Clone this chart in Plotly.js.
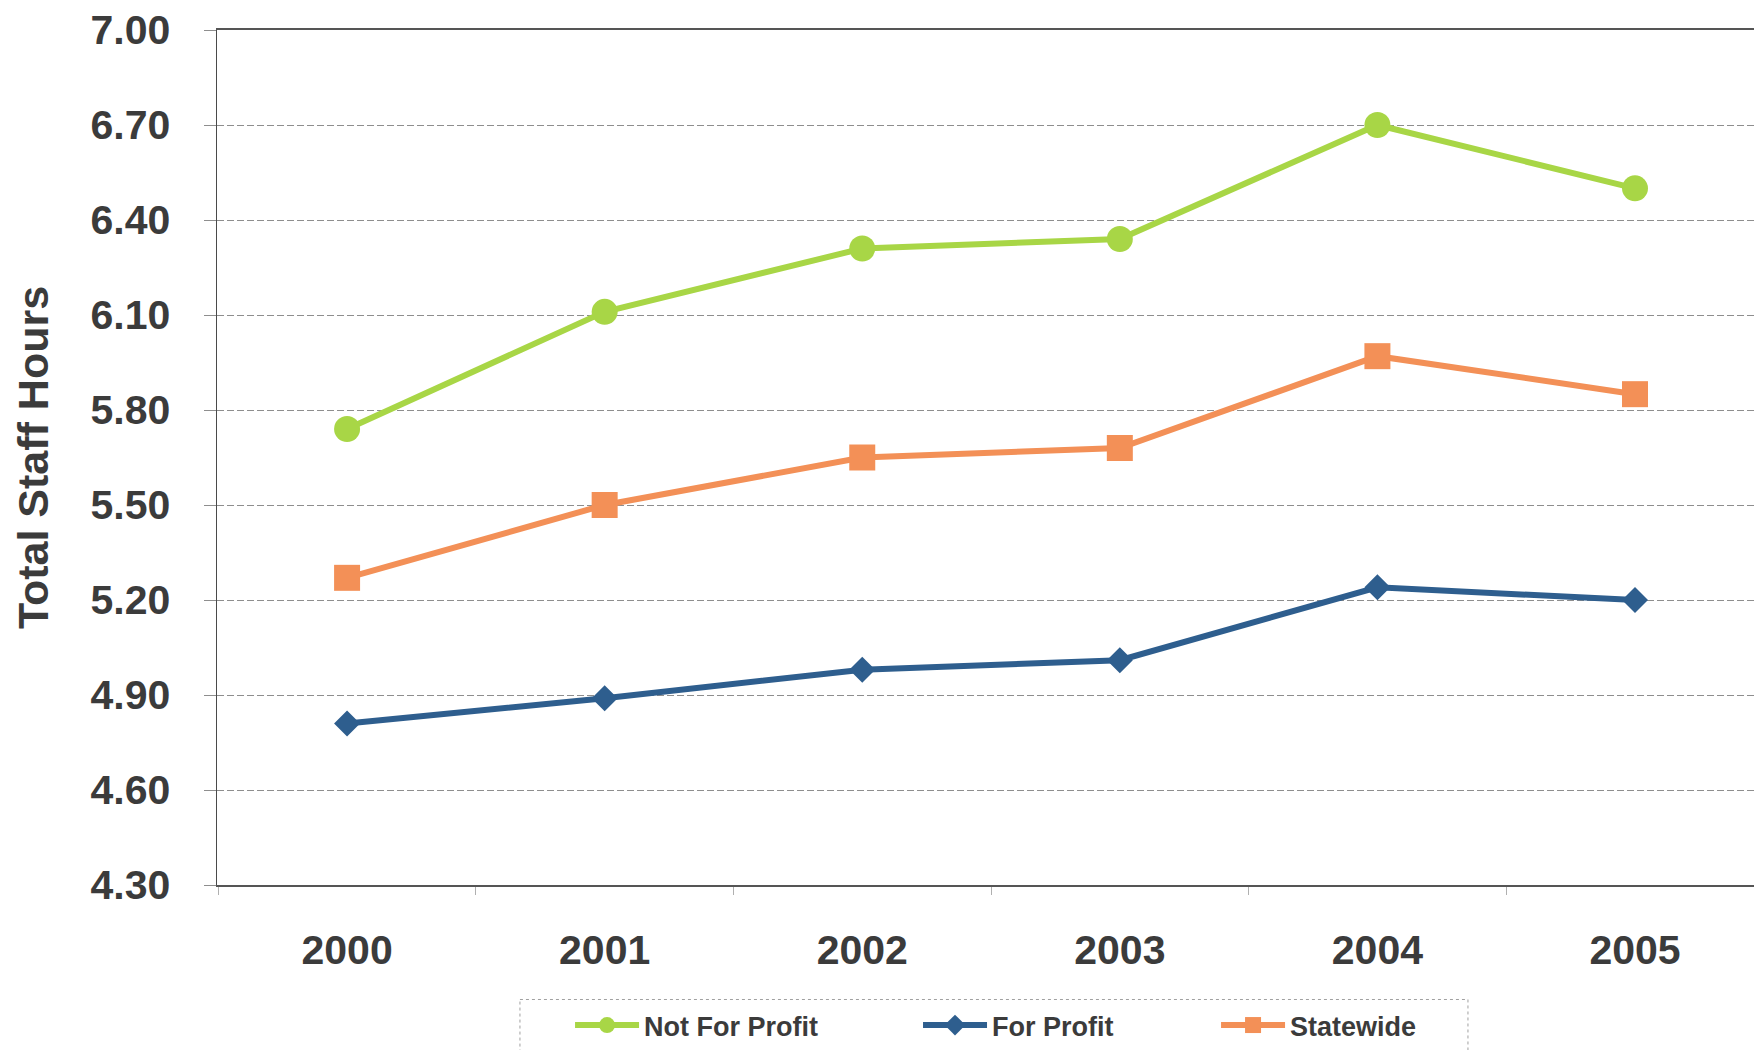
<!DOCTYPE html>
<html>
<head>
<meta charset="utf-8">
<script src="https://cdn.plot.ly/plotly-3.0.1.min.js"></script>
<style>
  html, body { margin: 0; padding: 0; background: #ffffff; }
  #chart { width: 1754px; height: 1050px; }
</style>
</head>
<body>
<div id="chart"></div>
<script>
// Average total staff hours by year and facility type
const years = ['2000', '2001', '2002', '2003', '2004', '2005'];
const notForProfit = [5.74, 6.11, 6.31, 6.34, 6.70, 6.50];
const forProfit = [4.81, 4.89, 4.98, 5.01, 5.24, 5.20];
const statewide = [5.27, 5.50, 5.65, 5.68, 5.97, 5.85];
const yTickValues = [4.30, 4.60, 4.90, 5.20, 5.50, 5.80, 6.10, 6.40, 6.70, 7.00];
const seriesNames = ['Not For Profit', 'For Profit', 'Statewide'];

const FONT = 'Liberation Sans, Arial, Helvetica, sans-serif';
const TEXT = '#3b3b3b';
const GREEN = '#a8d646';
const BLUE = '#2e5e8e';
const ORANGE = '#f39057';

function series(name, values, color, symbol, size, legendId) {
  return {
    type: 'scatter',
    mode: 'lines+markers',
    name: name,
    x: years,
    y: values,
    legend: legendId,
    line: { color: color, width: 6 },
    marker: { color: color, symbol: symbol, size: size, line: { width: 0 } },
    hoverinfo: 'x+y+name'
  };
}

const traces = [
  series(seriesNames[0], notForProfit, GREEN, 'circle', 26, 'legend'),
  series(seriesNames[1], forProfit, BLUE, 'diamond', 20, 'legend2'),
  series(seriesNames[2], statewide, ORANGE, 'square', 26, 'legend3')
];

// plot area spans y = 30..889 px, so legend/box positions are in paper units of that frame
const legendBase = {
  orientation: 'h',
  xanchor: 'left',
  yanchor: 'top',
  y: -0.1362,
  bgcolor: 'rgba(0,0,0,0)',
  borderwidth: 0,
  itemwidth: 64,
  itemsizing: 'trace',
  font: { family: FONT, size: 27, color: TEXT, weight: 'bold' }
};

const layout = {
  width: 1754,
  height: 1050,
  paper_bgcolor: '#ffffff',
  plot_bgcolor: '#ffffff',
  margin: { l: 217, r: 0, t: 30, b: 161, pad: 0 },
  showlegend: true,
  legend: Object.assign({}, legendBase, { x: 0.2297 }),
  legend2: Object.assign({}, legendBase, { x: 0.4561 }),
  legend3: Object.assign({}, legendBase, { x: 0.6500 }),
  xaxis: {
    type: 'category',
    range: [-0.505, 5.462],
    showgrid: false,
    zeroline: false,
    showline: true,
    mirror: true,
    linecolor: '#555555',
    linewidth: 2,
    ticks: 'outside',
    tickson: 'boundaries',
    ticklen: 8,
    tickcolor: '#b0b0b0',
    tickwidth: 1,
    ticklabelstandoff: 28,
    tickfont: { family: FONT, size: 41, color: TEXT, weight: 'bold' },
    automargin: false
  },
  yaxis: {
    range: [4.3, 7.0],
    tickvals: yTickValues,
    tickformat: '.2f',
    showgrid: true,
    gridcolor: '#8e8e8e',
    gridwidth: 1,
    griddash: '7px,3px',
    zeroline: false,
    showline: true,
    linecolor: '#4a4a4a',
    linewidth: 1.5,
    ticks: 'outside',
    ticklen: 12,
    tickcolor: '#8e8e8e',
    tickwidth: 1,
    ticklabelstandoff: 25,
    tickfont: { family: FONT, size: 41, color: TEXT, weight: 'bold' },
    title: {
      text: 'Total Staff Hours',
      standoff: 28,
      font: { family: FONT, size: 43, color: TEXT, weight: 'bold' }
    },
    automargin: false
  },
  shapes: [
    {
      type: 'rect',
      xref: 'paper', yref: 'paper',
      x0: 0.1971, x1: 0.8139,
      y0: -0.1339, y1: -0.2000,
      line: { color: '#a0a0a0', width: 1, dash: 'dot' },
      fillcolor: 'rgba(0,0,0,0)',
      layer: 'below'
    }
  ]
};

Plotly.newPlot('chart', traces, layout, { displayModeBar: false, staticPlot: true });
</script>
</body>
</html>
